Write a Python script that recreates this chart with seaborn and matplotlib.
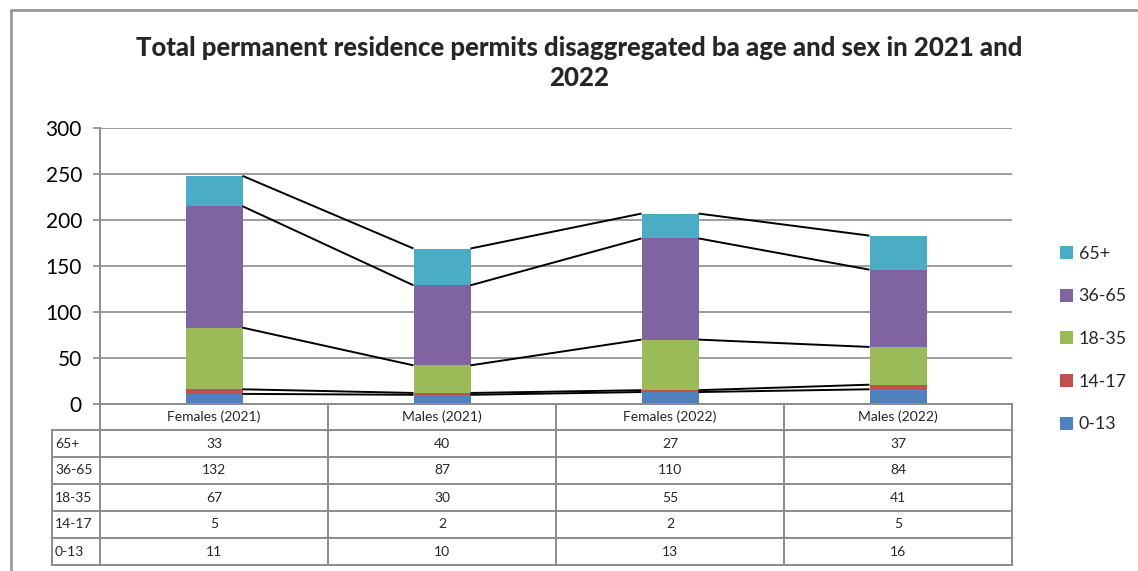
import numpy as np
import pandas as pd
import matplotlib
matplotlib.use("Agg")
import matplotlib.pyplot as plt
from matplotlib.lines import Line2D
from matplotlib.patches import Patch
import seaborn as sns

categories = ["Females (2021)", "Males (2021)", "Females (2022)", "Males (2022)"]
age_groups = ["0-13", "14-17", "18-35", "36-65", "65+"]
v_0_13 = [11, 10, 13, 16]
v_14_17 = [5, 2, 2, 5]
v_18_35 = [67, 30, 55, 41]
v_36_65 = [132, 87, 110, 84]
v_65p = [33, 40, 27, 37]
colors = ["#4F81BD", "#C0504D", "#9BBB59", "#8064A2", "#4BACC6"]
title = "Total permanent residence permits disaggregated ba age and sex in 2021 and\n2022"

series = [v_0_13, v_14_17, v_18_35, v_36_65, v_65p]
cum = np.cumsum(np.array(series), axis=0)  # rows: top of each segment

sns.set_theme(style="white")
plt.rcParams["font.family"] = ["Lato", "DejaVu Sans"]

W, H = 1138, 571
fig = plt.figure(figsize=(W / 100, H / 100), dpi=100)

def fx(px):
    return px / W

def fy(py):
    return 1 - py / H

# plot area
x0, x1, y0, y1 = 100, 1012, 128, 404
ax = fig.add_axes([fx(x0), fy(y1), fx(x1) - fx(x0), fy(y0) - fy(y1)])

bar_w = 0.25
# stacked bars: draw cumulative totals from the top layer down
for k in range(len(age_groups) - 1, -1, -1):
    df = pd.DataFrame({"cat": categories, "val": cum[k]})
    sns.barplot(data=df, x="cat", y="val", order=categories, color=colors[k],
                width=bar_w, saturation=1, ax=ax, zorder=3, linewidth=0)

# series lines joining segment tops between neighbouring bars
for k in range(len(age_groups)):
    for i in range(len(categories) - 1):
        ax.plot([i + bar_w / 2, i + 1 - bar_w / 2], [cum[k][i], cum[k][i + 1]],
                color="black", lw=1.4, zorder=4, solid_capstyle="butt")

ax.set_xlim(-0.5, len(categories) - 0.5)
ax.set_ylim(0, 300)
ax.set_yticks(range(0, 301, 50))
ax.set_xticks([])
ax.set_xlabel("")
ax.set_ylabel("")
ax.yaxis.grid(True, color="#8c8c8c", lw=1.2, zorder=0)
ax.set_axisbelow(True)
for s in ["top", "right", "bottom"]:
    ax.spines[s].set_visible(False)
ax.spines["left"].set_color("#8c8c8c")
ax.spines["left"].set_linewidth(1.4)
ax.tick_params(axis="y", left=True, length=5, width=1.2, color="#8c8c8c",
               labelsize=15, pad=8, labelcolor="black")

# data table under the plot
grid_c = "#8c8c8c"
lw_t = 1.4
col_edges = [100, 328, 556, 784, 1012]
row_edges = [404, 430, 457, 484, 511, 538, 565]
tab_left = 52
tfs = 10

def hline(y, xa, xb):
    fig.add_artist(Line2D([fx(xa), fx(xb)], [fy(y), fy(y)], color=grid_c, lw=lw_t))

def vline(x, ya, yb):
    fig.add_artist(Line2D([fx(x), fx(x)], [fy(ya), fy(yb)], color=grid_c, lw=lw_t))

hline(404, 100, 1012)
for r in row_edges[1:]:
    hline(r, tab_left, 1012)
for c in col_edges:
    vline(c, 404, 565)
vline(tab_left, 430, 565)

for i, cat in enumerate(categories):
    cx = (col_edges[i] + col_edges[i + 1]) / 2
    fig.text(fx(cx), fy((row_edges[0] + row_edges[1]) / 2), cat,
             ha="center", va="center", fontsize=tfs)

table_rows = list(reversed(list(zip(age_groups, series))))
for r, (lab, vals) in enumerate(table_rows):
    cy = (row_edges[r + 1] + row_edges[r + 2]) / 2
    fig.text(fx(tab_left + 3), fy(cy), lab, ha="left", va="center", fontsize=tfs)
    for i, v in enumerate(vals):
        cx = (col_edges[i] + col_edges[i + 1]) / 2
        fig.text(fx(cx), fy(cy), str(v), ha="center", va="center", fontsize=tfs)

# legend
handles = [Patch(facecolor=colors[k], edgecolor="none", label=age_groups[k])
           for k in range(len(age_groups) - 1, -1, -1)]
fig.legend(handles=handles, loc="center left",
           bbox_to_anchor=(fx(1051), fy(339)), frameon=False, fontsize=12.8,
           handlelength=0.75, handleheight=0.75, handletextpad=0.3,
           labelspacing=1.5, borderpad=0)

# title
fig.text(fx(579), fy(63), title, ha="center", va="center", fontsize=18.5,
         fontweight="black", linespacing=1.35)

# outer chart frame
fig.add_artist(Line2D([fx(11), fx(11)], [fy(10), 0], color="#999999", lw=2))
fig.add_artist(Line2D([fx(11), 1], [fy(10), fy(10)], color="#999999", lw=2))

fig.savefig("out.png", dpi=100)
